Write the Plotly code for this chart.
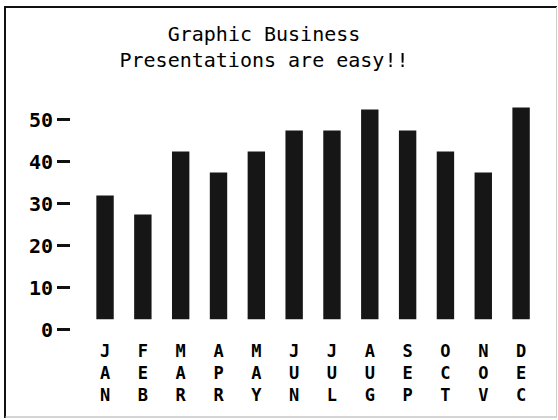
import plotly.graph_objects as go

months = ["JAN", "FEB", "MAR", "APR", "MAY", "JUN", "JUL", "AUG", "SEP", "OCT", "NOV", "DEC"]
values = [32, 27.5, 42.5, 37.5, 42.5, 47.5, 47.5, 52.5, 47.5, 42.5, 37.5, 53]
bar_base = 2.5
y_ticks = [0, 10, 20, 30, 40, 50]
title_lines = ["Graphic Business", "Presentations are easy!!"]

W, H = 558, 420
ml, mr, mt, mb = 71, 18, 99, 86
pw, ph = W - ml - mr, H - mt - mb

def px_x(x):
    return (x - ml) / pw

def px_y(y):
    return 1 - (y - mt) / ph

fig = go.Figure(go.Bar(
    x=months,
    y=[v - bar_base for v in values],
    base=bar_base,
    marker=dict(color="#161616", line=dict(width=0)),
    width=0.46,
))

font_mono = "DejaVu Sans Mono"

shapes = [
    dict(type="line", xref="paper", yref="paper", x0=px_x(4), x1=px_x(557), y0=px_y(7), y1=px_y(7),
         line=dict(color="#111", width=2)),
    dict(type="line", xref="paper", yref="paper", x0=px_x(5), x1=px_x(5), y0=px_y(6), y1=px_y(418),
         line=dict(color="#111", width=2)),
    dict(type="line", xref="paper", yref="paper", x0=px_x(5), x1=px_x(557), y0=px_y(417), y1=px_y(417),
         line=dict(color="#aaa", width=1)),
    dict(type="line", xref="paper", yref="paper", x0=px_x(556.5), x1=px_x(556.5), y0=px_y(7), y1=px_y(417),
         line=dict(color="#ccc", width=1)),
]

fig.update_layout(
    width=W, height=H,
    margin=dict(l=ml, r=mr, t=mt, b=mb, pad=0),
    paper_bgcolor="white", plot_bgcolor="white",
    showlegend=False,
    title=dict(
        text="<br>".join(title_lines),
        x=264 / W, xref="container", xanchor="center",
        y=1 - 41 / H, yref="container", yanchor="middle",
        font=dict(family=font_mono, size=20, color="black"),
    ),
    shapes=shapes,
    xaxis=dict(
        type="category",
        range=[-0.9, 11.5],
        tickmode="array",
        tickvals=months,
        ticktext=["<br>".join(list(m)) for m in months],
        tickangle=0,
        showgrid=False, zeroline=False, showline=False, ticks="",
        tickfont=dict(family=font_mono, size=17, color="black", weight="bold"),
        ticklabelstandoff=5,
    ),
    yaxis=dict(
        range=[-1, 55],
        tickmode="array",
        tickvals=y_ticks,
        ticktext=[str(t) for t in y_ticks],
        showgrid=False, zeroline=False, showline=False,
        ticks="outside", ticklen=13, tickwidth=3, tickcolor="#111",
        tickfont=dict(family=font_mono, size=20, color="black", weight="bold"),
    ),
)

fig.write_html("out.html")
